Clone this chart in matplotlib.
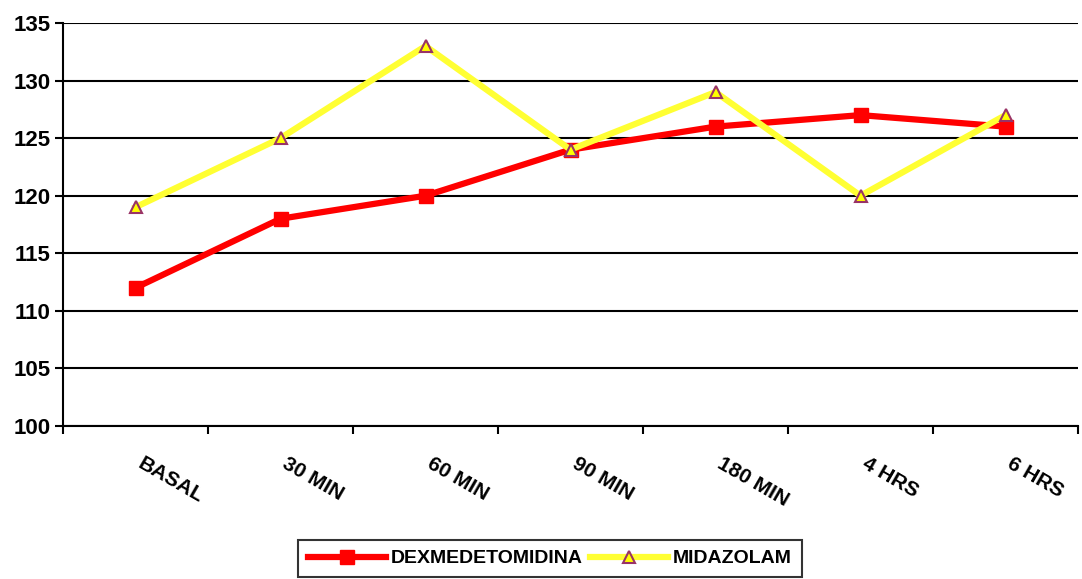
import matplotlib
matplotlib.use("Agg")
import matplotlib.pyplot as plt
import numpy as np

categories = ["BASAL", "30 MIN", "60 MIN", "90 MIN", "180 MIN", "4 HRS", "6 HRS"]
dex = [112, 118, 120, 124, 126, 127, 126]
mid = [119, 125, 133, 124, 129, 120, 127]

plt.rcParams['font.family'] = ['Liberation Sans', 'DejaVu Sans']
plt.rcParams['font.weight'] = 'bold'

fig = plt.figure(figsize=(10.82, 5.79), dpi=100)
ax = fig.add_axes([63 / 1082, 1 - 426 / 579, (1078 - 63) / 1082, (426 - 23) / 579])

x = np.arange(len(categories))
ax.plot(x, dex, color='#ff0000', lw=4.5, marker='s', ms=10, mfc='#ff0000', mec='#ff0000',
        label='DEXMEDETOMIDINA', zorder=3)
ax.plot(x, mid, color='#ffff33', lw=4.5, marker='^', ms=9, mfc='#ffff00', mec='#993366', mew=1.5,
        label='MIDAZOLAM', zorder=4)

ax.set_xlim(-0.5, len(categories) - 0.5)
ax.set_ylim(100, 135)
ax.set_yticks(np.arange(100, 136, 5))
ax.yaxis.grid(True, color='black', lw=1.5)
ax.set_axisbelow(True)
ax.tick_params(axis='y', labelsize=16, length=6, width=1.5, direction='out', pad=3)

ax.set_xticks(np.arange(len(categories) + 1) - 0.5)
ax.set_xticklabels([])
ax.tick_params(axis='x', length=6, width=1.5, direction='out')
for i, c in enumerate(categories):
    ax.annotate(c, xy=(i, 100), xycoords='data', xytext=(6, -20), textcoords='offset points',
                rotation=-30, rotation_mode='anchor', ha='left', va='top',
                fontsize=15, fontweight='bold')

for s in ['top', 'right']:
    ax.spines[s].set_visible(False)
for s in ['left', 'bottom']:
    ax.spines[s].set_linewidth(1.5)

leg = fig.legend(loc='upper center', bbox_to_anchor=(550 / 1082, 1 - 540 / 579), ncol=2,
                 frameon=True, fancybox=False, edgecolor='black', fontsize=14,
                 handlelength=4.0, handletextpad=0.25, columnspacing=0.4,
                 borderpad=0.5, borderaxespad=0)
leg.get_frame().set_linewidth(1.5)

fig.savefig("out.png", dpi=100)
